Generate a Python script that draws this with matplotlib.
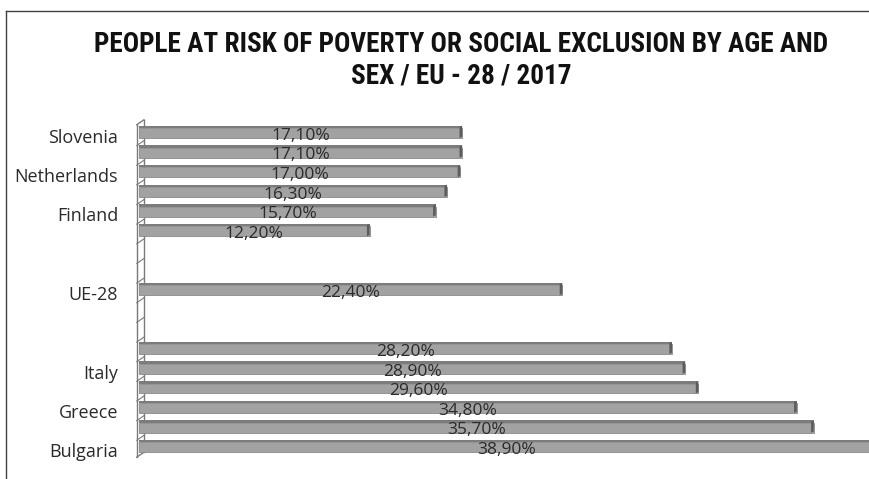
import matplotlib
matplotlib.use("Agg")
import matplotlib.pyplot as plt
from matplotlib import font_manager
from matplotlib.font_manager import FontProperties
from matplotlib.lines import Line2D
from matplotlib.patches import Polygon
import matplotlib.transforms as mtransforms

# Rows from top to bottom, in three groups separated by blank rows
low_labels = ["Slovenia", "", "Netherlands", "", "Finland", ""]
low_values = [17.10, 17.10, 17.00, 16.30, 15.70, 12.20]
eu_labels = ["UE-28"]
eu_values = [22.40]
high_labels = ["", "Italy", "", "Greece", "", "Bulgaria"]
high_values = [28.20, 28.90, 29.60, 34.80, 35.70, 38.90]

title_lines = ["PEOPLE AT RISK OF POVERTY OR SOCIAL EXCLUSION BY AGE AND",
               "SEX / EU - 28 / 2017"]


def _is_bold(weight):
    if isinstance(weight, str):
        return weight.lower() in ("bold", "heavy", "black", "extra bold", "semibold")
    return weight >= 600


def title_font():
    """A narrow bold face for the heading, if one is installed."""
    cands = []
    for f in font_manager.fontManager.ttflist:
        name = f.name + " " + f.fname
        narrow = ("Narrow" in name) or ("Condensed" in name) or (f.stretch in ("condensed", "semi-condensed"))
        if narrow and _is_bold(f.weight) and f.style == "normal":
            cands.append(f)
    if cands:
        pref = sorted(cands, key=lambda f: (0 if "Liberation" in f.name else
                                            1 if "Roboto" in f.name else 2))
        return FontProperties(fname=pref[0].fname)
    return FontProperties(family="Open Sans", weight="bold")


tprop = title_font()
body_font = "Open Sans"

GAP = 2
labels, values, rows = [], [], []
r = 0
for i, (glabels, gvals) in enumerate([(low_labels, low_values),
                                      (eu_labels, eu_values),
                                      (high_labels, high_values)]):
    if i > 0:
        r += GAP
    for lab, v in zip(glabels, gvals):
        labels.append(lab)
        values.append(v)
        rows.append(r)
        r += 1
n_rows = r

W, H = 869, 479
fig = plt.figure(figsize=(W / 100, H / 100), dpi=100)
ax = fig.add_axes([139 / W, 1 - 456 / H, (W - 139) / W, (456 - 122) / H])
xmax = (W - 139) / 18.9
ax.set_xlim(0, xmax)
ax.set_ylim(n_rows - 0.5, -0.5)

body_c = "#a2a2a2"
top_c = "#7c7c7c"
cap_c = "#5c5c5c"
bh = 0.62

for y, v in zip(rows, values):
    ax.barh(y + 0.06, v, height=bh - 0.12, color=body_c, edgecolor="#8a8a8a",
            linewidth=0.6, zorder=3)
    ax.barh(y - bh / 2 + 0.06, v, height=0.12, color=top_c, linewidth=0, zorder=3)
    cap = Polygon([(v - 0.14, y - bh / 2 + 0.06), (v, y - bh / 2),
                   (v, y + bh / 2 - 0.06), (v - 0.14, y + bh / 2)],
                  closed=True, facecolor=cap_c, edgecolor="none", zorder=4)
    ax.add_patch(cap)
    ax.text(v / 2, y + 0.2, f"{v:.2f}".replace(".", ",") + "%",
            ha="center", va="center", fontsize=12.5, family=body_font,
            color="#2a2a2a", zorder=5)

# back wall of the category axis
wall_c = "#7a7a7a"
x_front, x_back = -0.12, 0.26
y_top, y_bot, dy = -0.36, n_rows - 0.44, -0.25
for xs, ys in [([x_front, x_front], [y_top, y_bot]),
               ([x_back, x_back], [y_top + dy, y_bot + dy]),
               ([x_front, x_back], [y_top, y_top + dy]),
               ([x_front, x_back], [y_bot, y_bot + dy])]:
    ax.add_line(Line2D(xs, ys, color=wall_c, lw=1.0, clip_on=False, zorder=2))
for k in range(1, n_rows):
    yb = k - 0.5 + 0.2
    ax.add_line(Line2D([x_front, x_back], [yb, yb + dy], color=wall_c, lw=0.8,
                       clip_on=False, zorder=2))

ax.set_yticks([y for y, lab in zip(rows, labels) if lab])
ax.set_yticklabels([lab for lab in labels if lab], fontsize=13,
                   family=body_font, color="#2a2a2a")
ax.tick_params(axis="y", length=0, pad=15)
offset = mtransforms.ScaledTranslation(0, -4 / 100, fig.dpi_scale_trans)
for t in ax.get_yticklabels():
    t.set_transform(t.get_transform() + offset)
ax.set_xticks([])
for s in ax.spines.values():
    s.set_visible(False)

# outer frame
fig.add_artist(Line2D([6 / W, 1], [1 - 11 / H, 1 - 11 / H], color="#404040", lw=1.0))
fig.add_artist(Line2D([6 / W, 6 / W], [0, 1 - 11 / H], color="#404040", lw=1.0))

t1 = fig.text(461 / W, 1 - 45 / H, title_lines[0], ha="center", va="center",
              fontproperties=tprop, color="#111111")
t2 = fig.text(461 / W, 1 - 76 / H, title_lines[1], ha="center", va="center",
              fontproperties=tprop, color="#111111")
# size the heading so its first line spans the header width
base = 17.5
t1.set_fontsize(base)
t2.set_fontsize(base)
renderer = fig.canvas.get_renderer()
w1 = t1.get_window_extent(renderer).width
size = base * 733 / w1
t1.set_fontsize(size)
t2.set_fontsize(size)

fig.savefig("out.png", dpi=100)
